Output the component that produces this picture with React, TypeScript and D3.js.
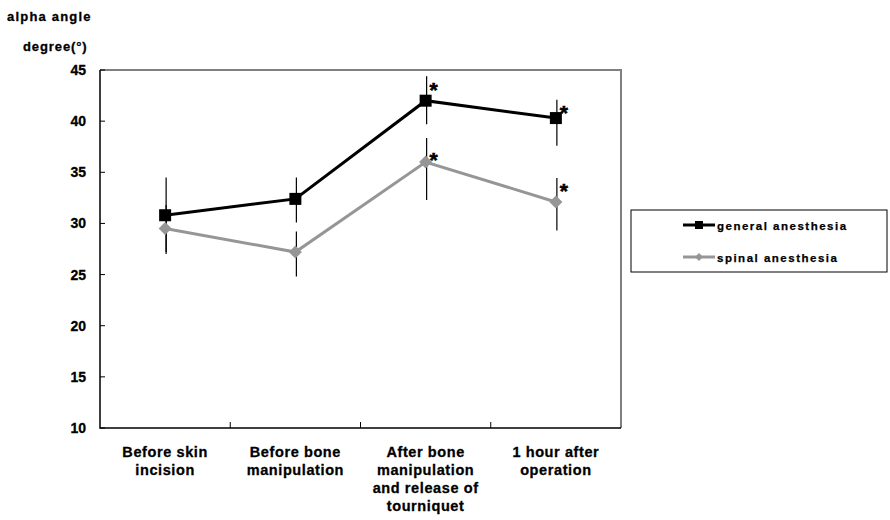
import React from "react";
import * as d3 from "d3";

const categories = [
  ["Before skin", "incision"],
  ["Before bone", "manipulation"],
  ["After bone", "manipulation", "and release of", "tourniquet"],
  ["1 hour after", "operation"],
];
const catKeys = ["c1", "c2", "c3", "c4"];

const generalMean = [30.8, 32.4, 42.0, 40.3];
const generalLow = [27.0, 30.1, 39.7, 37.6];
const generalHigh = [34.5, 34.5, 44.4, 42.1];
const generalStar = [null, null, 43.35, 41.1];

const spinalMean = [29.5, 27.2, 36.0, 32.1];
const spinalLow = [27.2, 24.8, 32.3, 29.3];
const spinalHigh = [31.8, 29.2, 38.35, 34.45];
const spinalStar = [null, null, 36.5, 33.5];

const yTicks = [10, 15, 20, 25, 30, 35, 40, 45];
const seriesNames = ["general anesthesia", "spinal anesthesia"];

const FONT = "'Liberation Sans', Arial, Helvetica, sans-serif";
const GRAY = "#969696";

export default function App() {
  const x = d3.scaleBand<string>().domain(catKeys).range([100, 621]);
  const y = d3.scaleLinear().domain([10, 45]).range([428, 70]);
  const cx = (i: number) => (x(catKeys[i]) as number) + x.bandwidth() / 2;

  const line = d3
    .line<number>()
    .x((_, i) => cx(i))
    .y((d) => y(d));

  const series = [
    { name: seriesNames[0], mean: generalMean, low: generalLow, high: generalHigh, star: generalStar, color: "#000", marker: "square" },
    { name: seriesNames[1], mean: spinalMean, low: spinalLow, high: spinalHigh, star: spinalStar, color: GRAY, marker: "diamond" },
  ];

  const marker = (kind: string, px: number, py: number, s: number, color: string, key?: string) =>
    kind === "square" ? (
      <rect key={key} x={px - s / 2} y={py - s / 2} width={s} height={s} fill={color} />
    ) : (
      <path
        key={key}
        d={`M${px},${py - s / 2}L${px + s / 2},${py}L${px},${py + s / 2}L${px - s / 2},${py}Z`}
        fill={color}
      />
    );

  const x0 = 100, x1 = 621, yTop = y(45), yBot = y(10);

  return (
    <svg
      width={890}
      height={520}
      style={{ position: "absolute", left: 0, top: 0, background: "#fff" }}
      fontFamily={FONT}
    >
      <rect x={0} y={0} width={890} height={520} fill="#fff" />
      {/* titles */}
      <text x={7} y={21} fontSize={13} fontWeight="bold" letterSpacing={1.2} stroke="#000" strokeWidth={0.3}>alpha angle</text>
      <text x={23} y={51} fontSize={13} fontWeight="bold" letterSpacing={0.9} stroke="#000" strokeWidth={0.3}>degree(°)</text>

      {/* plot border top/right */}
      <path d={`M${x0},${yTop}H${x1}V${yBot}`} fill="none" stroke="#808080" strokeWidth={2} />
      {/* axes */}
      <path d={`M${x0},${yTop}V${yBot}H${x1}`} fill="none" stroke="#000" strokeWidth={1.5} />

      {/* y ticks */}
      {yTicks.map((t) => (
        <g key={t}>
          <line x1={x0} x2={x0 + 5} y1={y(t)} y2={y(t)} stroke="#000" strokeWidth={1} />
          <text x={86} y={y(t) + 5} fontSize={14} fontWeight="bold" textAnchor="end" stroke="#000" strokeWidth={0.3}>{t}</text>
        </g>
      ))}

      {/* x ticks */}
      {catKeys.slice(1).map((k) => (
        <line key={k} x1={x(k) as number} x2={x(k) as number} y1={yBot} y2={yBot - 6} stroke="#000" strokeWidth={1} />
      ))}
      {categories.map((lines, i) => (
        <text key={i} fontSize={14.5} fontWeight="bold" textAnchor="middle" letterSpacing={0.6} stroke="#000" strokeWidth={0.3}>
          {lines.map((l, j) => (
            <tspan key={j} x={cx(i)} y={457 + j * 18}>{l}</tspan>
          ))}
        </text>
      ))}

      {/* error bars */}
      {series.map((s) =>
        s.mean.map((_, i) => (
          <line
            key={s.name + "e" + i}
            x1={cx(i) + 1}
            x2={cx(i) + 1}
            y1={y(s.low[i])}
            y2={y(s.high[i])}
            stroke="#000"
            strokeWidth={1.2}
          />
        ))
      )}

      {/* lines and markers, spinal first so general on top */}
      {[...series].reverse().map((s) => (
        <g key={s.name}>
          <path d={line(s.mean) as string} fill="none" stroke={s.color} strokeWidth={3} />
          {s.mean.map((v, i) => marker(s.marker, cx(i), y(v), s.marker === "square" ? 12 : 13, s.color, s.name + i))}
          {s.star.map((v, i) =>
            v == null ? null : (
              <text key={s.name + "s" + i} x={cx(i) + 8} y={y(v) + 10} fontSize={21} fontWeight="bold" textAnchor="middle" stroke="#000" strokeWidth={0.6}>*</text>
            )
          )}
        </g>
      ))}

      {/* legend */}
      <rect x={631} y={210} width={256} height={62} fill="#fff" stroke="#000" strokeWidth={1} />
      {series.map((s, i) => {
        const ly = 225 + i * 32;
        return (
          <g key={s.name + "lg"}>
            <line x1={683} x2={715} y1={ly} y2={ly} stroke={s.color} strokeWidth={3} />
            {marker(s.marker, 699, ly, 8, s.color)}
            <text x={717} y={ly + 5} fontSize={11.5} fontWeight="bold" letterSpacing={1.5} stroke="#000" strokeWidth={0.25}>{s.name}</text>
          </g>
        );
      })}
    </svg>
  );
}
